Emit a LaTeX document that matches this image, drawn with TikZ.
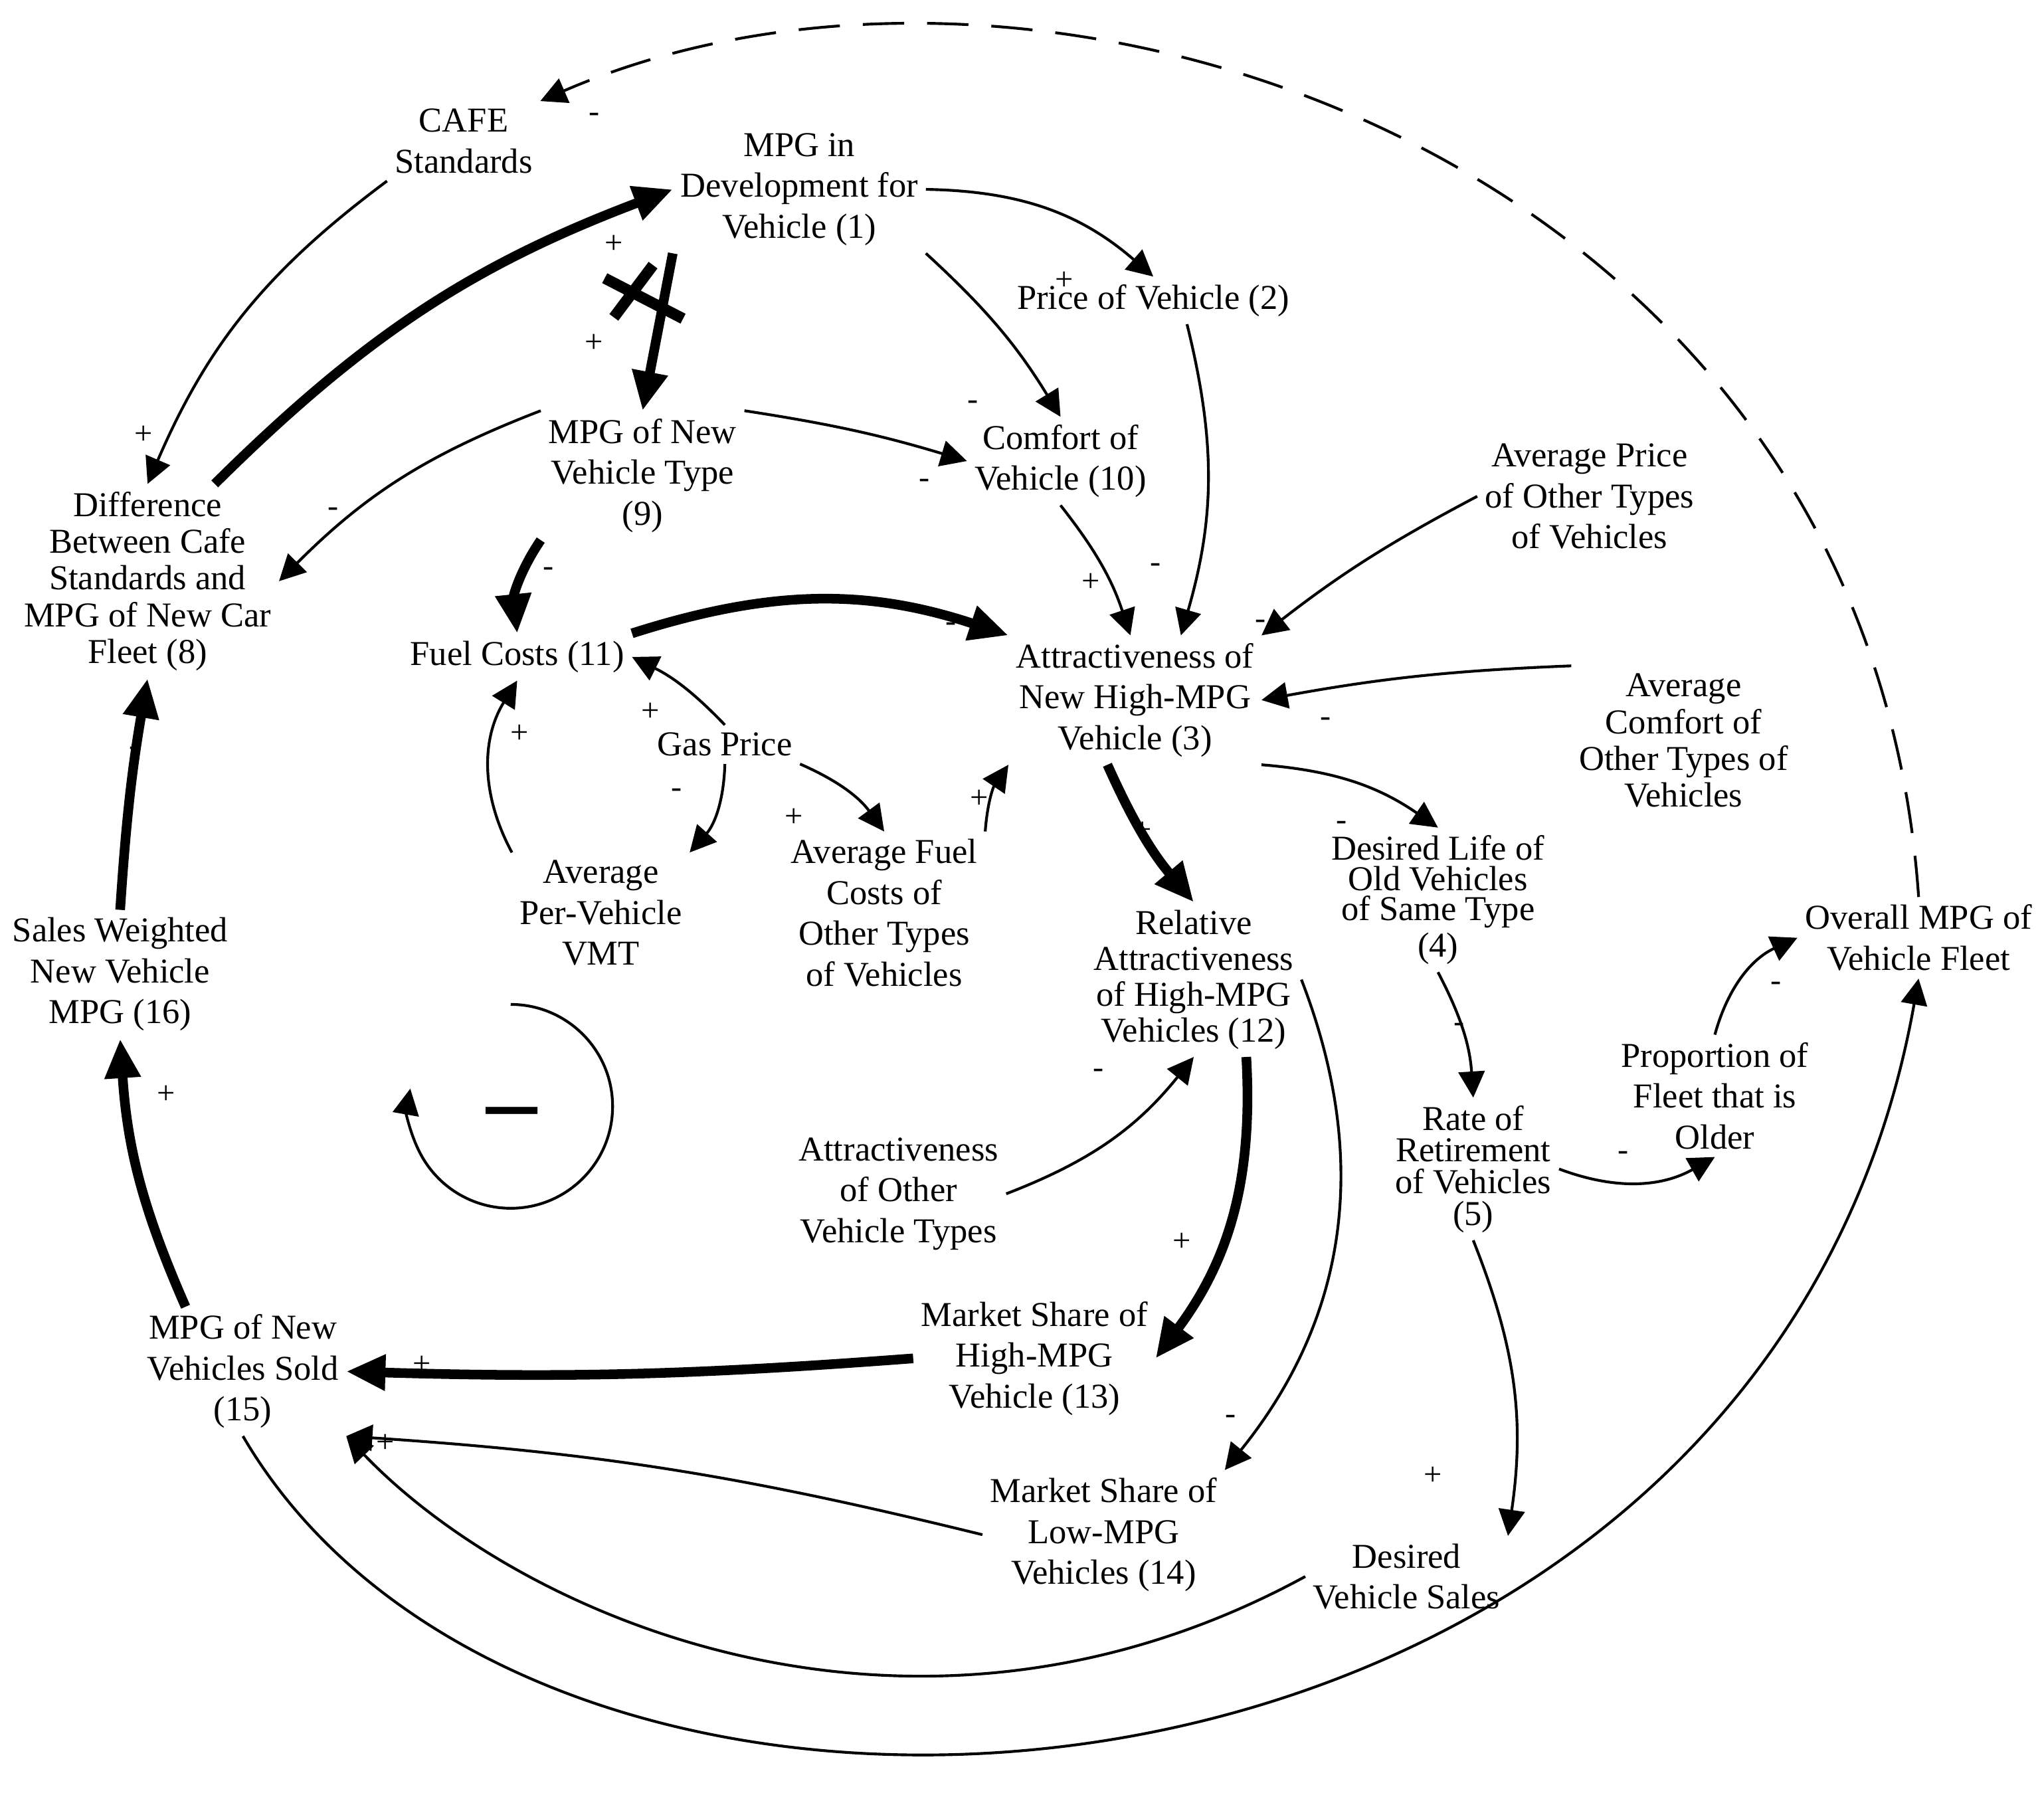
\documentclass[tikz,border=0pt]{standalone}
\usepackage{fontspec}
\setmainfont{Liberation Serif}
\usetikzlibrary{arrows.meta}

\begin{document}
\begin{tikzpicture}[x=0.01cm, y=0.01cm,
    every node/.style={align=center, inner sep=1.5pt, font=\fontsize{7.6}{8.9}\selectfont},
    link/.style={line width=0.6pt, -{Triangle[length=2mm,width=2mm]}},
    strong/.style={line width=2.1pt, -{Triangle[length=3mm,width=2.6mm]}},
    sgn/.style={inner sep=0pt, font=\fontsize{7}{8}\selectfont}]
    \useasboundingbox (0,0) rectangle (1565,-1374);

    \node (cafe) at (355,-108) {CAFE\\Standards};
    \node (mpgdev) at (612,-145) {MPG in\\Development for\\Vehicle (1)};
    \node (price) at (883,-230) {Price of Vehicle (2)};
    \node (mpgnew) at (492,-364) {MPG of New\\Vehicle Type\\(9)};
    \node (comfort) at (812,-353) {Comfort of\\Vehicle (10)};
    \node (avgprice) at (1217,-380) {Average Price\\of Other Types\\of Vehicles};
    \node [font=\fontsize{7.6}{8}\selectfont] (diff) at (113,-445) {Difference\\Between Cafe\\Standards and\\MPG of New Car\\Fleet (8)};
    \node (fuel) at (396,-503) {Fuel Costs (11)};
    \node (attr) at (869,-536) {Attractiveness of\\New High-MPG\\Vehicle (3)};
    \node [font=\fontsize{7.6}{8}\selectfont] (avgcomfort) at (1289,-567) {Average\\Comfort of\\Other Types of\\Vehicles};
    \node (gas) at (555,-570) {Gas Price};
    \node (avgvmt) at (460,-699) {Average\\Per-Vehicle\\VMT};
    \node (avgfuel) at (677,-699) {Average Fuel\\Costs of\\Other Types\\of Vehicles};
    \node [font=\fontsize{7.6}{6.6}\selectfont] (life) at (1101,-689) {Desired Life of\\Old Vehicles\\of Same Type\\(4)};
    \node [font=\fontsize{7.6}{7.8}\selectfont] (rel) at (914,-750) {Relative\\Attractiveness\\of High-MPG\\Vehicles (12)};
    \node (overall) at (1469,-718) {Overall MPG of\\Vehicle Fleet};
    \node (sales16) at (92,-746) {Sales Weighted\\New Vehicle\\MPG (16)};
    \node (prop) at (1313,-839) {Proportion of\\Fleet that is\\Older};
    \node [font=\fontsize{7.6}{6.9}\selectfont] (retire) at (1128,-895) {Rate of\\Retirement\\of Vehicles\\(5)};
    \node (otherattr) at (688,-914) {Attractiveness\\of Other\\Vehicle Types};
    \node (mpgsold) at (186,-1050) {MPG of New\\Vehicles Sold\\(15)};
    \node (msh) at (792,-1040) {Market Share of\\High-MPG\\Vehicle (13)};
    \node (msl) at (845,-1175) {Market Share of\\Low-MPG\\Vehicles (14)};
    \node (desired) at (1077,-1207) {Desired\\Vehicle Sales};

    % links
    \draw [link, dashed, dash pattern=on 9pt off 5pt] (overall.north) .. controls (1430,-120) and (800,90) .. (cafe.north east);
    \draw [link] (cafe.south west) to[bend right=15] (diff.north);
    \draw [strong] ([xshift=-14pt]diff.north east) to[bend left=12] (mpgdev.west);
    \draw [link] (mpgdev.east) to[bend left=20] (price.north);
    \draw [strong] (mpgdev.south west) -- (mpgnew.north);
    \draw [link] (mpgdev.south east) to[bend left=8] (comfort.north);
    \draw [link] (mpgnew.north west) to[bend right=12] (diff.east);
    \draw [link] (mpgnew.north east) to[bend left=4] (comfort.west);
    \draw [strong] (mpgnew.south west) to[bend right=20] (fuel.north);
    \draw [strong] (fuel.north east) to[bend left=18] (attr.north west);
    \draw [link] ([xshift=-24pt]price.south east) to[bend left=15] ([xshift=10pt]attr.north);
    \draw [link] (comfort.south) to[bend left=10] ([xshift=-1pt]attr.north);
    \draw [link] (avgprice.west) to[bend right=5] (attr.north east);
    \draw [link] (gas.north) to[bend right=10] (fuel.east);
    \draw [link] (gas.south) to[bend left=20] (avgvmt.north east);
    \draw [link] (gas.south east) to[bend left=15] (avgfuel.north);
    \draw [link] (avgvmt.north west) to[bend left=30] (fuel.south);
    \draw [link] (avgfuel.north east) to[bend left=15] (attr.south west);
    \draw [link] (avgcomfort.north west) to[bend right=4] (attr.east);
    \draw [link] (attr.south east) to[bend left=15] (life.north);
    \draw [strong] ([xshift=-6pt]attr.south) to[bend right=8] (rel.north);
    \draw [link] (life.south) to[bend left=12] (retire.north);
    \draw [link] (retire.east) to[bend right=25] (prop.south);
    \draw [link] (prop.north) to[bend left=25] (overall.west);
    \draw [link] (otherattr.east) to[bend right=15] (rel.south);
    \draw [strong] ([xshift=-12pt]rel.south east) to[bend left=20] (msh.east);
    \draw [link] (rel.east) to[bend left=30] (msl.north east);
    \draw [link] (retire.south) to[bend left=15] (desired.north east);
    \draw [strong] (msh.west) to[bend left=3] (mpgsold.east);
    \draw [link] (msl.west) to[bend right=5] (mpgsold.south east);
    \draw [link] (desired.west) .. controls (700,-1370) and (400,-1240) .. (mpgsold.south east);
    \draw [link] (mpgsold.south) .. controls (420,-1500) and (1350,-1420) .. (overall.south);
    \draw [strong] ([xshift=10pt]mpgsold.north west) to[bend left=10] (sales16.south);
    \draw [strong] (sales16.north) to[bend left=3] (diff.south);

    % delay mark and loop
    \draw [line width=2.4pt] (463,-213) -- (523,-244) (500,-203) -- (470,-243);
    \draw [link] (391,-769) arc[start angle=90, end angle=-190, radius=0.78cm];
    \node [font=\fontsize{22}{22}\selectfont\bfseries] (loop) at (392,-858) {--};

    % polarities
    \foreach \p/\s [count=\i] in {{455,-90}/-, {110,-333}/+, {470,-187}/+, {815,-215}/+,
        {455,-263}/+, {745,-310}/-, {255,-392}/-, {708,-370}/-, {420,-438}/-,
        {728,-480}/-, {885,-435}/-, {835,-446}/+, {965,-478}/-, {498,-545}/+,
        {518,-607}/-, {608,-626}/+, {398,-562}/+, {750,-612}/+, {1015,-553}/-,
        {1027,-632}/-, {875,-636}/+, {1117,-787}/-, {1243,-885}/-, {1360,-755}/-,
        {841,-822}/-, {905,-951}/+, {942,-1087}/-, {1097,-1130}/+, {323,-1045}/+,
        {295,-1105}/+, {127,-838}/+, {103,-575}/-} {
      \node [sgn] (s\i) at (\p) {\s};
    }
\end{tikzpicture}
\end{document}
